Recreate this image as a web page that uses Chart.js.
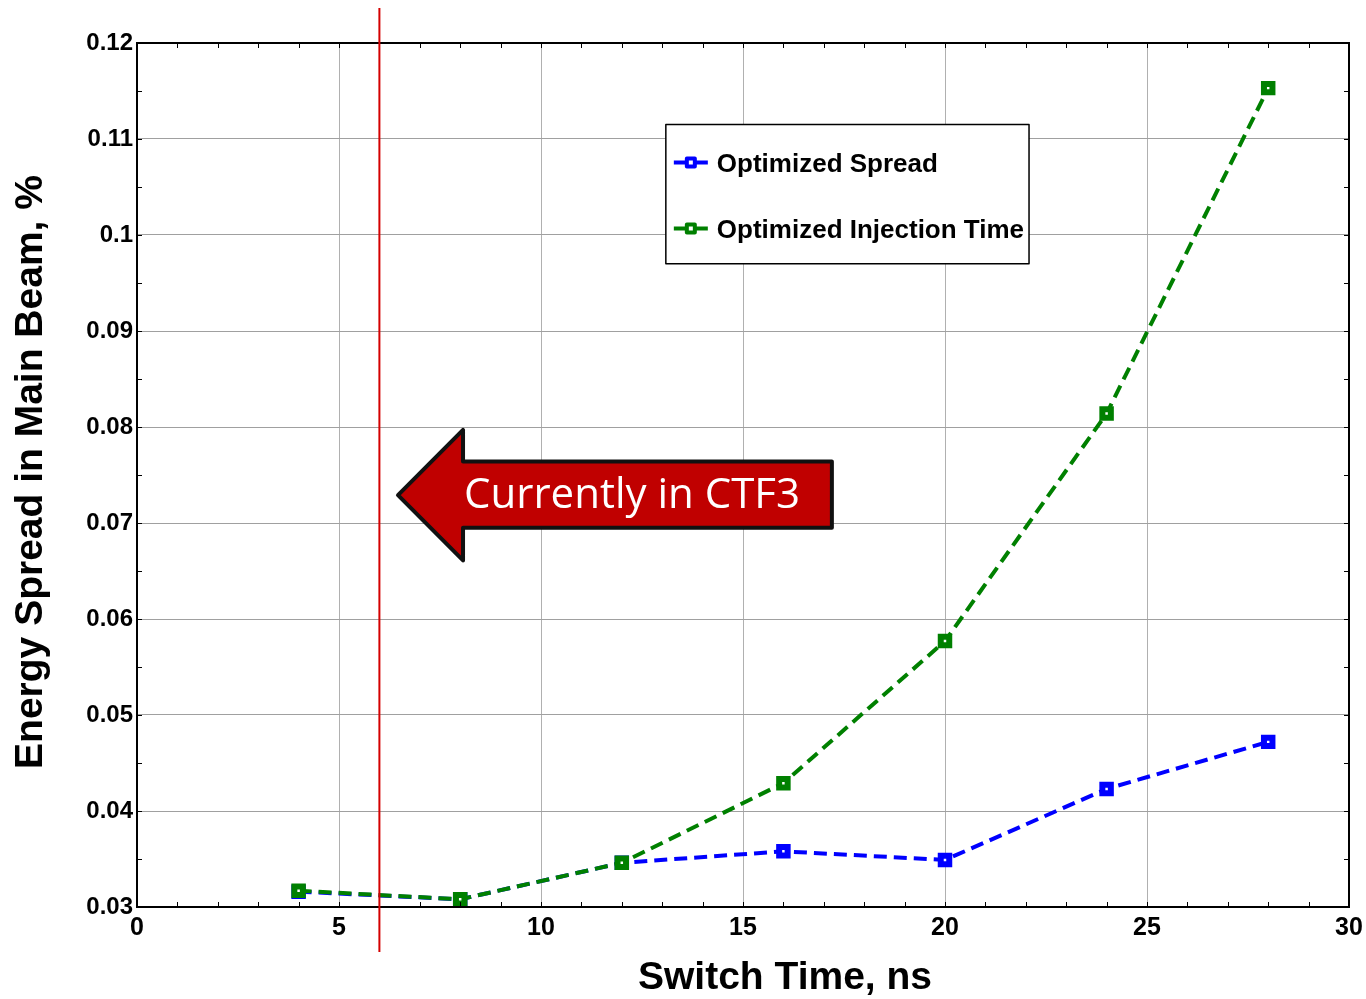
<!DOCTYPE html>
<html>
<head>
<meta charset="utf-8">
<script src="https://cdn.jsdelivr.net/npm/chart.js@4/dist/chart.umd.min.js"></script>
<style>
  html, body { margin: 0; padding: 0; background: #fff; }
  #wrap { width: 1366px; height: 999px; }
</style>
</head>
<body>
<div id="wrap"><canvas id="chart"></canvas></div>
<script>
// switch times (ns) and energy spread (%)
const switchTimes = [4, 8, 12, 16, 20, 24, 28];
const optimizedSpread = [0.0316, 0.0308, 0.0346, 0.0358, 0.0349, 0.0423, 0.0472];
const optimizedInjection = [0.0317, 0.0308, 0.0346, 0.0429, 0.0577, 0.0814, 0.1153];
const seriesNames = ['Optimized Spread', 'Optimized Injection Time'];
const seriesColors = ['#0000ff', '#008000'];
const currentSwitchTime = 6;

const FONT = '"Liberation Sans", Arial, sans-serif';

function toPoints(ys) {
  return switchTimes.map((x, i) => ({ x: x, y: ys[i] }));
}

function lineSet(label, ys, color, order) {
  return {
    label: label,
    data: toPoints(ys),
    borderColor: color,
    backgroundColor: '#ffffff',
    borderWidth: 4,
    borderDash: [13, 7],
    pointStyle: 'rect',
    pointRadius: 6,
    pointBorderWidth: 6,
    pointBorderColor: color,
    pointBackgroundColor: '#ffffff',
    order: order,
    tension: 0,
  };
}

// frame, inward minor ticks, red marker line, arrow, legend and axis titles
const decorations = {
  id: 'decorations',
  afterDraw(chart) {
    const { ctx, chartArea: a, scales } = chart;
    const xs = scales.x, ys = scales.y;
    ctx.save();

    // minor ticks on all four sides
    ctx.strokeStyle = '#000';
    ctx.lineWidth = 1;
    ctx.beginPath();
    for (let v = 0; v <= 30; v += 1) {
      const px = Math.round(xs.getPixelForValue(v)) + 0.5;
      ctx.moveTo(px, a.bottom); ctx.lineTo(px, a.bottom - 5);
      ctx.moveTo(px, a.top); ctx.lineTo(px, a.top + 5);
    }
    for (let k = 0; k <= 18; k++) {
      const py = Math.round(ys.getPixelForValue(0.03 + k * 0.005)) + 0.5;
      ctx.moveTo(a.left, py); ctx.lineTo(a.left + 5, py);
      ctx.moveTo(a.right, py); ctx.lineTo(a.right - 5, py);
    }
    ctx.stroke();

    // box
    ctx.lineWidth = 2;
    ctx.strokeRect(a.left, a.top, a.right - a.left, a.bottom - a.top);

    // red line at current switch time
    const rx = xs.getPixelForValue(currentSwitchTime);
    ctx.strokeStyle = '#d40000';
    ctx.lineWidth = 2;
    ctx.beginPath();
    ctx.moveTo(rx, a.top - 35);
    ctx.lineTo(rx, a.bottom + 45);
    ctx.stroke();

    // arrow "Currently in CTF3"
    const X = v => xs.getPixelForValue(v);
    const Y = v => ys.getPixelForValue(v);
    const tipX = X(6.46), headX = X(8.07), endX = X(17.2);
    const midY = Y(0.0729), headT = Y(0.0797), headB = Y(0.0661);
    const shaftT = Y(0.0764), shaftB = Y(0.0695);
    ctx.beginPath();
    ctx.moveTo(tipX, midY);
    ctx.lineTo(headX, headT);
    ctx.lineTo(headX, shaftT);
    ctx.lineTo(endX, shaftT);
    ctx.lineTo(endX, shaftB);
    ctx.lineTo(headX, shaftB);
    ctx.lineTo(headX, headB);
    ctx.closePath();
    ctx.fillStyle = '#c00000';
    ctx.fill();
    ctx.lineJoin = 'round';
    ctx.lineWidth = 4;
    ctx.strokeStyle = '#111';
    ctx.stroke();
    ctx.fillStyle = '#fff';
    ctx.font = '42px "Open Sans", sans-serif';
    ctx.textAlign = 'left';
    ctx.textBaseline = 'middle';
    ctx.fillText('Currently in CTF3', headX + 1, midY + 1);

    // legend box
    const lx = X(13.09), rxl = X(22.08), ty = Y(0.1115), by = Y(0.097);
    ctx.fillStyle = '#fff';
    ctx.fillRect(lx, ty, rxl - lx, by - ty);
    ctx.strokeStyle = '#000';
    ctx.lineWidth = 1.5;
    ctx.strokeRect(lx, ty, rxl - lx, by - ty);
    ctx.font = 'bold 26px ' + FONT;
    ctx.textBaseline = 'middle';
    seriesNames.forEach((name, i) => {
      const yy = ty + 38 + i * 66;
      ctx.strokeStyle = seriesColors[i];
      ctx.lineWidth = 4;
      ctx.beginPath();
      ctx.moveTo(lx + 8, yy); ctx.lineTo(lx + 42, yy);
      ctx.stroke();
      ctx.fillStyle = '#fff';
      ctx.fillRect(lx + 21, yy - 4, 8, 8);
      ctx.lineWidth = 4;
      ctx.strokeRect(lx + 21, yy - 4, 8, 8);
      ctx.fillStyle = '#000';
      ctx.fillText(name, lx + 51, yy + 2);
    });

    // axis titles
    ctx.fillStyle = '#000';
    ctx.font = 'bold 39px ' + FONT;
    ctx.textAlign = 'center';
    ctx.textBaseline = 'middle';
    ctx.fillText('Switch Time, ns', 785, 978);
    ctx.translate(31, 472);
    ctx.rotate(-Math.PI / 2);
    ctx.fillText('Energy Spread in Main Beam, %', 0, 0);
    ctx.restore();
  }
};

new Chart(document.getElementById('chart'), {
  type: 'line',
  data: {
    datasets: [
      lineSet(seriesNames[0], optimizedSpread, seriesColors[0], 1),
      lineSet(seriesNames[1], optimizedInjection, seriesColors[1], 0),
    ],
  },
  options: {
    responsive: true,
    maintainAspectRatio: false,
    animation: false,
    layout: { padding: { left: 0, top: 43, right: 17, bottom: 0 } },
    plugins: { legend: { display: false }, tooltip: { enabled: false } },
    scales: {
      x: {
        type: 'linear',
        min: 0,
        max: 30,
        afterFit: s => { s.height = 92; s.paddingLeft = 0; s.paddingRight = 0; },
        border: { display: false },
        grid: { color: '#b0b0b0', lineWidth: 1, drawTicks: false },
        ticks: {
          stepSize: 5,
          padding: 6,
          color: '#000',
          font: { family: FONT, size: 25, weight: 'bold' },
          maxRotation: 0,
        },
      },
      y: {
        type: 'linear',
        min: 0.03,
        max: 0.12,
        afterFit: s => { s.width = 137; s.paddingTop = 0; s.paddingBottom = 0; },
        border: { display: false },
        grid: { color: '#a0a0a0', lineWidth: 1, drawTicks: false },
        ticks: {
          stepSize: 0.01,
          padding: 4,
          color: '#000',
          font: { family: FONT, size: 24, weight: 'bold' },
          callback: v => String(parseFloat(v.toFixed(2))),
        },
      },
    },
  },
  plugins: [decorations],
});
</script>
</body>
</html>
